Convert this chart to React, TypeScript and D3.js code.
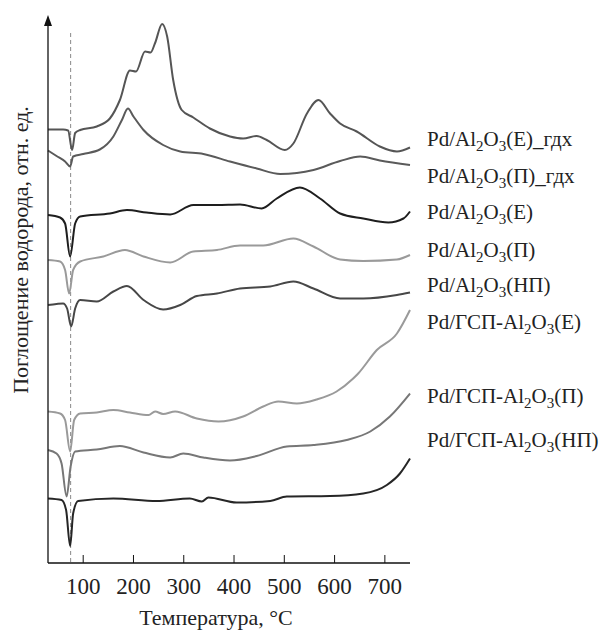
import React from "react";
import * as d3 from "d3";

// температура, °C, и поглощение H2 (отн. ед., кривые смещены по вертикали)
const tE_gdh = [30, 60, 70, 78, 84, 94, 127, 153, 173, 193, 205, 223, 234, 243, 257, 267, 279, 296, 319, 352, 392, 418, 445, 465, 501, 518, 545, 568, 591, 611, 644, 690, 724, 750];
const vE_gdh = [86.7, 86.7, 86.5, 82.6, 86, 86.6, 87.3, 88.9, 92.6, 98.5, 98.3, 102.3, 102.1, 104, 107.8, 105.3, 96.6, 90.6, 89.1, 86.9, 85.3, 84.9, 85.4, 84.6, 82.6, 83.9, 89.9, 92.6, 89.9, 87.9, 86.3, 83.3, 82.3, 83.1];

const tP_gdh = [30, 47, 64, 74, 80, 100, 133, 160, 177, 189, 200, 220, 259, 293, 339, 392, 445, 492, 558, 611, 651, 690, 750];
const vP_gdh = [82.5, 81.4, 80.3, 79.3, 81.3, 81.8, 82.7, 85.3, 88.6, 90.9, 89.3, 86.6, 83.6, 82.3, 81.8, 80.3, 78.9, 77.8, 78.6, 80.4, 81.3, 80.5, 79.6];

const tE = [30, 54, 64, 74, 84, 94, 153, 187, 226, 273, 319, 366, 412, 455, 485, 531, 571, 611, 657, 707, 737, 750];
const vE = [69.6, 69.1, 67.9, 61.3, 67.9, 69.3, 69.9, 70.6, 70.1, 69.7, 71.6, 71.6, 71.7, 70.9, 72.9, 75.1, 72.9, 69.9, 68.9, 68.1, 68.9, 70.3];

const tP = [30, 54, 64, 72, 80, 94, 140, 183, 220, 273, 319, 366, 412, 458, 518, 558, 611, 657, 724, 750];
const vP = [60.6, 60.3, 58.6, 53.9, 58.6, 60.3, 61.3, 62.6, 61.3, 60.1, 62.3, 62.6, 63.5, 63.5, 64.9, 63.3, 60.7, 60.4, 60.7, 61.6];

const tNP = [30, 47, 60, 68, 76, 84, 94, 127, 160, 187, 220, 259, 293, 326, 366, 412, 472, 518, 558, 611, 657, 724, 750];
const vNP = [51.6, 51.8, 51.9, 50.9, 47.3, 50.9, 52.6, 52.3, 54.3, 55.4, 52.6, 50.7, 51.6, 53.4, 53.9, 54.9, 55.3, 56.3, 54.9, 52.9, 52.9, 53.6, 54.1];

const tGE = [30, 54, 64, 74, 82, 94, 127, 160, 193, 230, 243, 259, 283, 326, 369, 418, 458, 488, 525, 564, 604, 637, 647, 684, 724, 750];
const vGE = [30.3, 29.9, 28.6, 22.3, 28.6, 29.9, 30.1, 30.6, 30.1, 29.6, 30.3, 29.8, 30.3, 28.9, 28.3, 29.3, 31.3, 32.3, 31.9, 32.7, 34.3, 36.9, 37.9, 42.6, 45.9, 50.6];

const tGP = [30, 47, 57, 67, 75, 84, 127, 173, 220, 273, 299, 339, 392, 445, 505, 558, 624, 671, 710, 750];
const vGP = [22.6, 21.9, 19.9, 13.3, 19.3, 22.3, 22.7, 23.4, 22.1, 21.1, 21.9, 21.1, 20.5, 21.4, 23.3, 23.6, 24.6, 26.3, 29.3, 33.9];

const tGNP = [30, 57, 66, 74, 80, 90, 160, 246, 312, 336, 349, 405, 472, 505, 591, 657, 704, 730, 750];
const vGNP = [12.9, 12.6, 10.6, 3.4, 9.9, 12.4, 12.9, 12.4, 12.9, 12.3, 13.1, 12.1, 12.4, 13.3, 13.4, 13.9, 15.6, 17.9, 20.9];

const xTicks = [100, 200, 300, 400, 500, 600, 700];
const dashT = 75;

// подписи: основа, индекс "2", "O", индекс "3", хвост
const labels = [
  { pre: "Pd/Al", tail: "(E)_гдх" },
  { pre: "Pd/Al", tail: "(П)_гдх" },
  { pre: "Pd/Al", tail: "(E)" },
  { pre: "Pd/Al", tail: "(П)" },
  { pre: "Pd/Al", tail: "(НП)" },
  { pre: "Pd/ГСП-Al", tail: "(E)" },
  { pre: "Pd/ГСП-Al", tail: "(П)" },
  { pre: "Pd/ГСП-Al", tail: "(НП)" },
];
const labelY = [146, 183, 219, 257, 292, 329, 403, 447];

const series = [
  { t: tE_gdh, v: vE_gdh, color: "#555555" },
  { t: tP_gdh, v: vP_gdh, color: "#5a5a5a" },
  { t: tE, v: vE, color: "#1e1e1e" },
  { t: tP, v: vP, color: "#9a9a9a" },
  { t: tNP, v: vNP, color: "#474747" },
  { t: tGE, v: vGE, color: "#9a9a9a" },
  { t: tGP, v: vGP, color: "#777777" },
  { t: tGNP, v: vGNP, color: "#262626" },
];

export default function App() {
  const width = 615, height = 631;
  const x0 = 48, x1 = 410, yBottom = 563, yTop = 13;
  const font = "'Liberation Serif', 'Times New Roman', serif";

  const x = d3.scaleLinear().domain([30, 750]).range([x0, x1]);
  const y = d3.scaleLinear().domain([0, 110]).range([yBottom, yTop]);

  const line = d3.line<[number, number]>()
    .x(d => x(d[0]))
    .y(d => y(d[1]))
    .curve(d3.curveMonotoneX);

  return (
    <svg width={width} height={height} style={{ position: "absolute", left: 0, top: 0, background: "#fff" }}>
      {/* штриховая линия */}
      <line x1={x(dashT)} x2={x(dashT)} y1={33} y2={yBottom} stroke="#8a8a8a" strokeWidth={1} strokeDasharray="4,3" />

      {series.map((s, i) => (
        <path key={i} d={line(s.t.map((t, j) => [t, s.v[j]]) as [number, number][]) || ""}
          fill="none" stroke={s.color} strokeWidth={2} strokeLinejoin="round" />
      ))}

      {/* оси */}
      <line x1={x0} x2={x0} y1={yBottom} y2={22} stroke="#111" strokeWidth={1.3} />
      <path d={`M${x0},${15} L${x0 - 4},${26} L${x0 + 4},${26} Z`} fill="#111" />
      <line x1={x0} x2={x1} y1={yBottom} y2={yBottom} stroke="#111" strokeWidth={1.3} />
      {xTicks.map(t => (
        <g key={t}>
          <line x1={x(t)} x2={x(t)} y1={yBottom} y2={yBottom - 8} stroke="#111" strokeWidth={1} />
          <text x={x(t)} y={594} textAnchor="middle" fontFamily={font} fontSize={23} fill="#222">{t}</text>
        </g>
      ))}
      <text x={216} y={625} textAnchor="middle" fontFamily={font} fontSize={22} fill="#222">Температура, °C</text>
      <text transform={`translate(28,${250}) rotate(-90)`} textAnchor="middle" fontFamily={font} fontSize={22} fill="#222">
        Поглощение водорода, отн. ед.
      </text>

      {/* подписи кривых */}
      {labels.map((l, i) => (
        <text key={i} x={427} y={labelY[i]} fontFamily={font} fontSize={21} fill="#222">
          {l.pre}
          <tspan fontSize={15} dy={5}>2</tspan>
          <tspan dy={-5}>O</tspan>
          <tspan fontSize={15} dy={5}>3</tspan>
          <tspan dy={-5}>{l.tail}</tspan>
        </text>
      ))}
    </svg>
  );
}
